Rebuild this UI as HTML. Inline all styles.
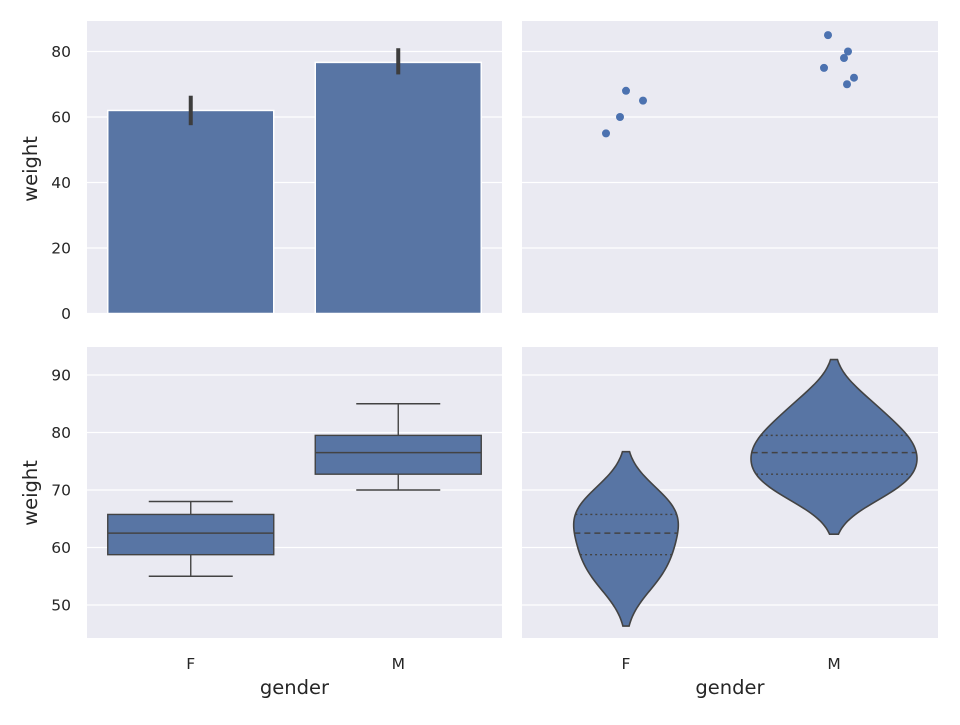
<!DOCTYPE html>
<html><head><meta charset="utf-8"><style>
body{margin:0;background:#fff}
svg text{font-family:"DejaVu Sans","Liberation Sans",sans-serif;fill:#262626}
</style></head><body>
<svg id="c" width="960" height="720"></svg>
<script>
const categories=["F","M"];
const weightsF=[55,60,68,65];
const weightsM=[85,75,78,80,70,72];
const barMeans=[62,76.67];
const ciLow=[57.5,73];
const ciHigh=[66.5,81];
const jitterF=[-20,-6,0,17];
const jitterM=[-6,-10,10,14,13,20];
const topTicks=[0,20,40,60,80];
const botTicks=[50,60,70,80,90];

const NS="http://www.w3.org/2000/svg";
const svg=document.getElementById('c');
function el(t,a,p){const e=document.createElementNS(NS,t);for(const k in a)e.setAttribute(k,a[k]);(p||svg).appendChild(e);return e;}
const cols=[[87,502],[522,938]];
const rows=[[21,314],[347,638]];
const yTop=v=>313.5-v*3.275;
const yBot=v=>375+(90-v)*5.75;
function xc(col,i){const [a,b]=cols[col];const w=(b-a)/2;return a+w*(i+0.5);}
const names=["bar-panel","strip-panel","box-panel","violin-panel"];
for(let r=0;r<2;r++)for(let c=0;c<2;c++){
  const g=el('g',{});
  
  
  el('rect',{x:cols[c][0],y:rows[r][0],width:cols[c][1]-cols[c][0],height:rows[r][1]-rows[r][0],fill:'#eaeaf2'},g);
  const ticks=r==0?topTicks:botTicks, ys=r==0?yTop:yBot;
  ticks.forEach(t=>{const y=ys(t);if(y<rows[r][0]||y>rows[r][1])return;
    el('line',{x1:cols[c][0],x2:cols[c][1],y1:y,y2:y,stroke:'#fff','stroke-width':1.3},g);
    if(c==0){const tx=el('text',{x:cols[c][0]-16,y:y+5.5,'text-anchor':'end','font-size':15.5},g);tx.textContent=t;
      }
  });
}
[[169,'weight'],[493,'weight']].forEach(([y,t])=>{const tx=el('text',{x:0,y:0,transform:`translate(37,${y}) rotate(-90)`,'text-anchor':'middle','font-size':19.5});tx.textContent=t;
 });
for(let c=0;c<2;c++){categories.forEach((k,i)=>{const tx=el('text',{x:xc(c,i),y:669,'text-anchor':'middle','font-size':15.5});tx.textContent=k;
 });
 const tx=el('text',{x:(cols[c][0]+cols[c][1])/2,y:694,'text-anchor':'middle','font-size':19.5});tx.textContent='gender';
 }
barMeans.forEach((m,i)=>{const x=xc(0,i);
 const b=el('rect',{x:x-83,y:yTop(m),width:166,height:yTop(0)-yTop(m),fill:'#5875a4',stroke:'#fff','stroke-width':1.5});
 
 const e=el('line',{x1:x,x2:x,y1:yTop(ciLow[i]),y2:yTop(ciHigh[i]),stroke:'#3d3d3d','stroke-width':4});
 });
[weightsF,weightsM].forEach((arr,i)=>{const jit=i?jitterM:jitterF;arr.forEach((v,j)=>{
 const p=el('circle',{cx:xc(1,i)+jit[j],cy:yTop(v),r:4,fill:'#4c72b0'});
 });});
function q(a,p){const s=[...a].sort((x,y)=>x-y);const h=(s.length-1)*p,lo=Math.floor(h);return s[lo]+(s[Math.min(lo+1,s.length-1)]-s[lo])*(h-lo);}
const ec='#434343';
[weightsF,weightsM].forEach((arr,i)=>{const x=xc(0,i);const q1=q(arr,.25),q2=q(arr,.5),q3=q(arr,.75),mn=Math.min(...arr),mx=Math.max(...arr);
 const g=el('g',{});
 el('line',{x1:x,x2:x,y1:yBot(mn),y2:yBot(q1),stroke:ec,'stroke-width':1.4},g);
 el('line',{x1:x,x2:x,y1:yBot(q3),y2:yBot(mx),stroke:ec,'stroke-width':1.4},g);
 el('line',{x1:x-42,x2:x+42,y1:yBot(mn),y2:yBot(mn),stroke:ec,'stroke-width':1.4},g);
 el('line',{x1:x-42,x2:x+42,y1:yBot(mx),y2:yBot(mx),stroke:ec,'stroke-width':1.4},g);
 el('rect',{x:x-83,y:yBot(q3),width:166,height:yBot(q1)-yBot(q3),fill:'#5875a4',stroke:ec,'stroke-width':1.4},g);
 el('line',{x1:x-83,x2:x+83,y1:yBot(q2),y2:yBot(q2),stroke:ec,'stroke-width':1.4},g);});
function kde(arr){const n=arr.length,m=arr.reduce((a,b)=>a+b)/n;const sd=Math.sqrt(arr.reduce((a,b)=>a+(b-m)**2,0)/(n-1));const bw=sd*Math.pow(n,-0.2);
 const lo=Math.min(...arr)-2*bw,hi=Math.max(...arr)+2*bw;const f=v=>arr.reduce((a,b)=>a+Math.exp(-0.5*((v-b)/bw)**2),0)/(bw*Math.sqrt(2*Math.PI));
 const pts=[];for(let k=0;k<=100;k++){const v=lo+(hi-lo)*k/100;pts.push([v,f(v)]);}return {pts,f};}
const ks=[kde(weightsF),kde(weightsM)];
const gmax=Math.max(...ks.map(k=>Math.max(...k.pts.map(p=>p[1]))));
ks.forEach((k,i)=>{const x=xc(1,i),s=83/gmax;const arr=i?weightsM:weightsF;
 let d='M'+k.pts.map(p=>`${x+p[1]*s},${yBot(p[0])}`).join('L')+'L'+k.pts.slice().reverse().map(p=>`${x-p[1]*s},${yBot(p[0])}`).join('L')+'Z';
 const g=el('g',{});
 el('path',{d,fill:'#5875a4',stroke:ec,'stroke-width':1.6},g);
 [[.25,'2,3'],[.5,'6,4'],[.75,'2,3']].forEach(([p,da])=>{const v=q(arr,p),w=k.f(v)*s;
  el('line',{x1:x-w,x2:x+w,y1:yBot(v),y2:yBot(v),stroke:ec,'stroke-width':1.4,'stroke-dasharray':da},g);});});
</script>
</body></html>
